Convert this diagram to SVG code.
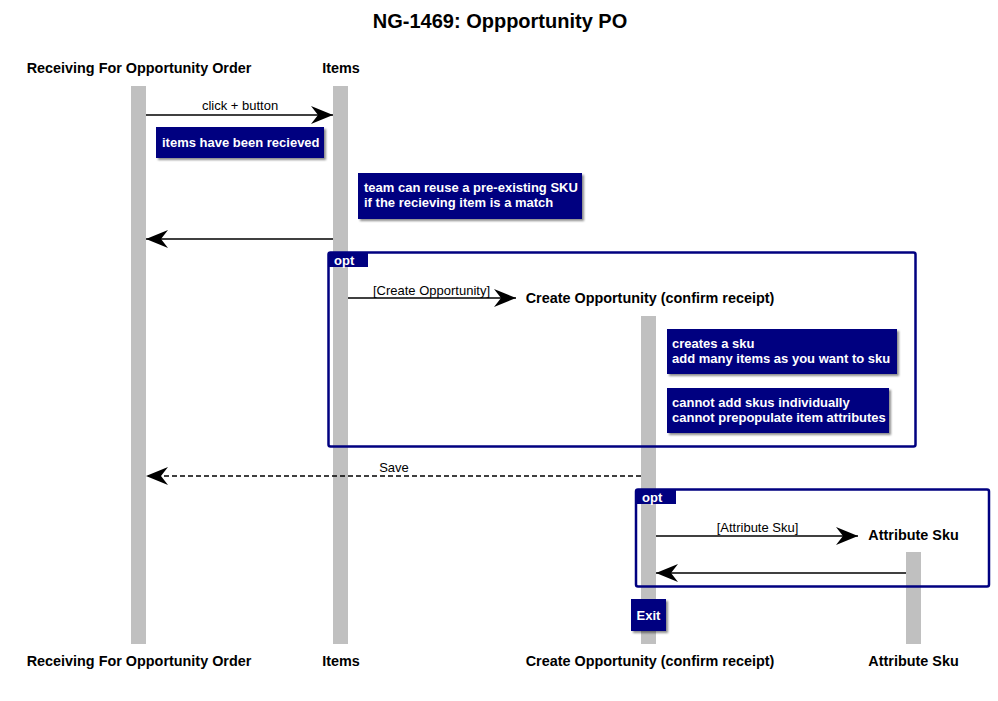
<svg xmlns="http://www.w3.org/2000/svg" width="998" height="701" viewBox="0 0 998 701">
<style>
  .title { font: bold 20px "Liberation Sans", Arial, sans-serif; fill: #000; }
  .part { font: bold 14.4px "Liberation Sans", Arial, sans-serif; fill: #000; }
  .msg { font: 13px "Liberation Sans", Arial, sans-serif; fill: #000; }
  .notetxt { font: bold 13px "Liberation Sans", Arial, sans-serif; fill: #fff; }
  .life { fill: #c0c0c0; }
  .note { fill: #000080; filter: url(#sh); }
  .frame { fill: none; stroke: #000080; stroke-width: 2.5; }
  .tab { fill: #000080; }
  .tabtxt { font: bold 13px "Liberation Sans", Arial, sans-serif; fill: #fff; }
  .line { stroke: #000; stroke-width: 1.5; fill: none; }
  .dash { stroke-dasharray: 5,3; }
</style>
<defs>
  <filter id="sh" x="-10%" y="-10%" width="130%" height="140%">
    <feDropShadow dx="2" dy="2" stdDeviation="1" flood-color="#000" flood-opacity="0.45"/>
  </filter>
  <marker id="ah" markerUnits="userSpaceOnUse" markerWidth="24" markerHeight="20" refX="22" refY="9" orient="auto">
    <path d="M0,0 L22,9 L0,18 L7,9 Z" fill="#000"/>
  </marker>
</defs>
<rect width="998" height="701" fill="#fff"/>
<text class="title" x="500" y="28" text-anchor="middle">NG-1469: Oppportunity PO</text>

<g id="p-receiving">
  <rect class="life" x="131" y="86" width="15" height="558"/>
  <text class="part" x="139" y="73" text-anchor="middle">Receiving For Opportunity Order</text>
  <text class="part" x="139" y="666" text-anchor="middle">Receiving For Opportunity Order</text>
</g>
<g id="p-items">
  <rect class="life" x="333" y="86" width="15" height="558"/>
  <text class="part" x="341" y="73" text-anchor="middle">Items</text>
  <text class="part" x="341" y="666" text-anchor="middle">Items</text>
</g>
<g id="p-create">
  <rect class="life" x="641" y="316" width="15" height="328"/>
  <text class="part" x="650" y="303" text-anchor="middle">Create Opportunity (confirm receipt)</text>
  <text class="part" x="650" y="666" text-anchor="middle">Create Opportunity (confirm receipt)</text>
</g>
<g id="p-attr">
  <rect class="life" x="906" y="552" width="15" height="92"/>
  <text class="part" x="913.5" y="540" text-anchor="middle">Attribute Sku</text>
  <text class="part" x="913.5" y="666" text-anchor="middle">Attribute Sku</text>
</g>

<g id="frame-opt1">
  <rect class="frame" x="328.5" y="252.5" width="587" height="194" rx="2"/>
  <path class="tab" d="M328,252 H368 V267 H328 Z"/>
  <text class="tabtxt" x="334" y="265">opt</text>
</g>
<g id="frame-opt2">
  <rect class="frame" x="636" y="489.5" width="353" height="97" rx="2"/>
  <path class="tab" d="M636,489 H676 V504 H636 Z"/>
  <text class="tabtxt" x="642" y="502">opt</text>
</g>

<g id="connectors">
  <line class="line" x1="146" y1="115" x2="333" y2="115" marker-end="url(#ah)"/>
  <text class="msg" x="240" y="110" text-anchor="middle">click + button</text>
  <line class="line" x1="333" y1="239" x2="146" y2="239" marker-end="url(#ah)"/>
  <line class="line" x1="348" y1="298" x2="516" y2="298" marker-end="url(#ah)"/>
  <text class="msg" x="431.5" y="295" text-anchor="middle">[Create Opportunity]</text>
  <line class="line dash" x1="641" y1="476" x2="146" y2="476" marker-end="url(#ah)"/>
  <text class="msg" x="394" y="472" text-anchor="middle">Save</text>
  <line class="line" x1="656" y1="536" x2="858" y2="536" marker-end="url(#ah)"/>
  <text class="msg" x="757.5" y="532" text-anchor="middle">[Attribute Sku]</text>
  <line class="line" x1="906" y1="573" x2="656" y2="573" marker-end="url(#ah)"/>
</g>

<g id="note-received">
  <rect class="note" x="156" y="127" width="168" height="31"/>
  <text class="notetxt" x="162" y="147">items have been recieved</text>
</g>
<g id="note-reuse">
  <rect class="note" x="358" y="173" width="224" height="46"/>
  <text class="notetxt" x="364" y="192">team can reuse a pre-existing SKU</text>
  <text class="notetxt" x="364" y="207">if the recieving item is a match</text>
</g>
<g id="note-creates">
  <rect class="note" x="667" y="329" width="230" height="45"/>
  <text class="notetxt" x="672" y="348">creates a sku</text>
  <text class="notetxt" x="672" y="363">add many items as you want to sku</text>
</g>
<g id="note-cannot">
  <rect class="note" x="667" y="388" width="222" height="45"/>
  <text class="notetxt" x="672" y="407">cannot add skus individually</text>
  <text class="notetxt" x="672" y="422">cannot prepopulate item attributes</text>
</g>
<g id="note-exit">
  <rect class="note" x="631" y="599" width="35" height="32"/>
  <text class="notetxt" x="648.5" y="620" text-anchor="middle">Exit</text>
</g>
</svg>
